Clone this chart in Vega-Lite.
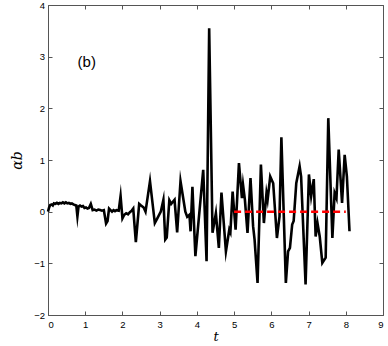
{
  "$schema": "https://vega.github.io/schema/vega-lite/v6.json",
  "autosize": "none",
  "width": 335,
  "height": 310,
  "padding": {"left": 48, "top": 5, "right": 5, "bottom": 31},
  "background": "white",
  "config": {
    "view": {"stroke": "#555", "strokeWidth": 1},
    "font": "Liberation Sans",
    "axis": {
      "grid": false,
      "domain": false,
      "tickSize": -4,
      "tickColor": "#555",
      "labelFont": "Liberation Sans",
      "labelFontSize": 9.5,
      "labelColor": "black",
      "titleColor": "black"
    }
  },
  "datasets": {
    "series": [
      {"t":0,"v":0.0},{"t":0.03,"v":0.08},{"t":0.06,"v":0.13},{"t":0.1,"v":0.14},{"t":0.13,"v":0.12},{"t":0.16,"v":0.16},{"t":0.2,"v":0.15},{"t":0.24,"v":0.17},{"t":0.28,"v":0.15},{"t":0.32,"v":0.17},{"t":0.36,"v":0.16},{"t":0.4,"v":0.18},{"t":0.44,"v":0.16},{"t":0.48,"v":0.18},{"t":0.52,"v":0.16},{"t":0.56,"v":0.17},{"t":0.6,"v":0.15},{"t":0.64,"v":0.16},{"t":0.68,"v":0.14},{"t":0.72,"v":0.13},{"t":0.76,"v":0.12},{"t":0.79,"v":-0.09},{"t":0.82,"v":0.1},{"t":0.86,"v":0.12},{"t":0.9,"v":0.1},{"t":0.94,"v":0.11},{"t":0.98,"v":0.07},{"t":1.02,"v":0.08},{"t":1.06,"v":0.06},{"t":1.1,"v":0.07},{"t":1.15,"v":0.15},{"t":1.2,"v":0.03},{"t":1.25,"v":0.04},{"t":1.3,"v":0.02},{"t":1.35,"v":0.04},{"t":1.4,"v":0.03},{"t":1.45,"v":0.02},{"t":1.5,"v":0.03},{"t":1.56,"v":-0.23},{"t":1.6,"v":-0.18},{"t":1.64,"v":0.06},{"t":1.68,"v":0.03},{"t":1.72,"v":0.0},{"t":1.76,"v":0.03},{"t":1.8,"v":0.01},{"t":1.84,"v":0.03},{"t":1.9,"v":0.02},{"t":1.95,"v":0.3},{"t":2.0,"v":-0.13},{"t":2.05,"v":-0.06},{"t":2.1,"v":-0.03},{"t":2.15,"v":-0.05},{"t":2.2,"v":-0.01},{"t":2.25,"v":0.02},{"t":2.29,"v":0.06},{"t":2.36,"v":-0.59},{"t":2.45,"v":0.15},{"t":2.5,"v":0.12},{"t":2.57,"v":0.08},{"t":2.62,"v":0.0},{"t":2.74,"v":0.59},{"t":2.87,"v":-0.22},{"t":2.93,"v":-0.14},{"t":3.03,"v":0.0},{"t":3.1,"v":0.23},{"t":3.15,"v":-0.54},{"t":3.19,"v":-0.5},{"t":3.26,"v":0.22},{"t":3.31,"v":0.15},{"t":3.4,"v":0.23},{"t":3.47,"v":-0.4},{"t":3.56,"v":0.59},{"t":3.69,"v":0.0},{"t":3.74,"v":-0.1},{"t":3.8,"v":-0.06},{"t":3.83,"v":-0.38},{"t":3.88,"v":0.48},{"t":3.96,"v":-0.86},{"t":4.17,"v":0.81},{"t":4.26,"v":-0.96},{"t":4.33,"v":3.55},{"t":4.42,"v":-0.41},{"t":4.51,"v":-0.03},{"t":4.59,"v":-0.7},{"t":4.66,"v":0.37},{"t":4.78,"v":-0.77},{"t":4.87,"v":-0.35},{"t":4.9,"v":-0.4},{"t":4.96,"v":0.39},{"t":5.04,"v":-0.35},{"t":5.13,"v":0.94},{"t":5.21,"v":0.26},{"t":5.24,"v":0.52},{"t":5.29,"v":0.23},{"t":5.36,"v":-0.41},{"t":5.44,"v":0.65},{"t":5.51,"v":-0.28},{"t":5.55,"v":-0.54},{"t":5.63,"v":-1.38},{"t":5.72,"v":0.91},{"t":5.8,"v":-0.22},{"t":5.87,"v":0.36},{"t":5.9,"v":0.23},{"t":5.97,"v":0.68},{"t":6.05,"v":0.55},{"t":6.15,"v":-0.51},{"t":6.22,"v":-0.09},{"t":6.27,"v":1.44},{"t":6.39,"v":-1.38},{"t":6.45,"v":-0.77},{"t":6.5,"v":-0.7},{"t":6.56,"v":-0.25},{"t":6.6,"v":-0.18},{"t":6.67,"v":0.55},{"t":6.76,"v":0.88},{"t":6.8,"v":0.68},{"t":6.92,"v":-1.41},{"t":7.01,"v":0.72},{"t":7.07,"v":0.3},{"t":7.14,"v":0.63},{"t":7.19,"v":-0.48},{"t":7.24,"v":-0.22},{"t":7.3,"v":-0.48},{"t":7.37,"v":-0.99},{"t":7.46,"v":-0.89},{"t":7.53,"v":1.81},{"t":7.64,"v":-0.51},{"t":7.7,"v":0.36},{"t":7.75,"v":0.26},{"t":7.81,"v":1.2},{"t":7.9,"v":0.17},{"t":7.97,"v":1.1},{"t":8.03,"v":0.68},{"t":8.1,"v":-0.38}
    ],
    "mean": [{"t":5,"v":0},{"t":8,"v":0}],
    "label": [{"t":1.04,"v":2.9,"text":"(b)"}]
  },
  "resolve": {"axis": {"x": "independent", "y": "independent"}},
  "layer": [
    {
      "data": {"name": "series"},
      "mark": {"type": "line", "color": "black", "strokeWidth": 2.6, "strokeJoin": "miter", "strokeMiterLimit": 10},
      "encoding": {
        "x": {"field": "t", "type": "quantitative", "scale": {"domain": [0, 9], "nice": false},
              "axis": {"orient": "bottom", "values": [0,1,2,3,4,5,6,7,8,9], "labelPadding": 8, "title": "t",
                       "titleFont": "DejaVu Serif", "titleFontStyle": "italic", "titleFontWeight": "normal", "titleFontSize": 13, "titlePadding": 2}},
        "y": {"field": "v", "type": "quantitative", "scale": {"domain": [-2, 4], "nice": false},
              "axis": {"orient": "left", "values": [-2,-1,0,1,2,3,4], "labelPadding": 7.5, "title": "αb",
                       "titleFont": "DejaVu Serif", "titleFontStyle": "italic", "titleFontWeight": "normal", "titleFontSize": 14, "titlePadding": 9}}
      }
    },
    {
      "data": {"name": "mean"},
      "mark": {"type": "line", "color": "#ff0000", "strokeWidth": 2.5, "strokeDash": [7, 4]},
      "encoding": {
        "x": {"field": "t", "type": "quantitative", "scale": {"domain": [0, 9], "nice": false}, "axis": {"orient": "top", "values": [0,1,2,3,4,5,6,7,8,9], "labels": false, "title": null}},
        "y": {"field": "v", "type": "quantitative", "scale": {"domain": [-2, 4], "nice": false}, "axis": {"orient": "right", "values": [-2,-1,0,1,2,3,4], "labels": false, "title": null}}
      }
    },
    {
      "data": {"name": "label"},
      "mark": {"type": "text", "fontSize": 15, "font": "Liberation Sans", "align": "center", "baseline": "middle", "color": "black"},
      "encoding": {
        "x": {"field": "t", "type": "quantitative", "scale": {"domain": [0, 9], "nice": false}, "axis": null},
        "y": {"field": "v", "type": "quantitative", "scale": {"domain": [-2, 4], "nice": false}, "axis": null},
        "text": {"field": "text"}
      }
    }
  ]
}
